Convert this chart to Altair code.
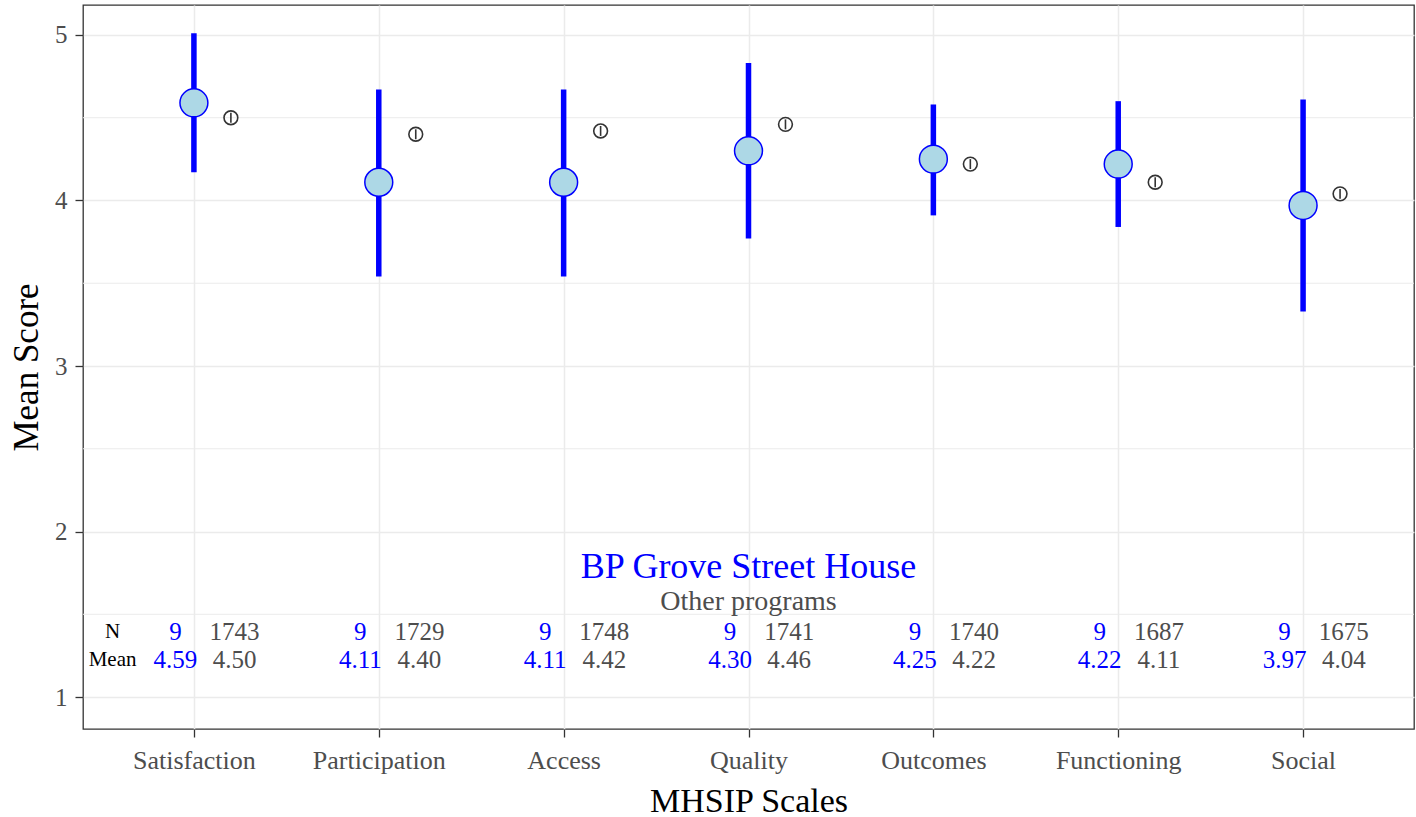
import altair as alt
import pandas as pd

scales = ["Satisfaction", "Participation", "Access", "Quality", "Outcomes", "Functioning", "Social"]
prog_mean = [4.59, 4.11, 4.11, 4.30, 4.25, 4.22, 3.97]
prog_lo = [4.17, 3.54, 3.54, 3.77, 3.91, 3.84, 3.33]
prog_hi = [5.01, 4.67, 4.67, 4.83, 4.58, 4.60, 4.61]
prog_n = [9, 9, 9, 9, 9, 9, 9]
other_mean = [4.50, 4.40, 4.42, 4.46, 4.22, 4.11, 4.04]
other_lo = [4.47, 4.37, 4.39, 4.43, 4.19, 4.08, 4.01]
other_hi = [4.53, 4.43, 4.45, 4.49, 4.25, 4.14, 4.07]
other_n = [1743, 1729, 1748, 1741, 1740, 1687, 1675]
minor_y = [1.5, 2.5, 3.5, 4.5]
row_labels = ["N", "Mean"]

FONT = "Liberation Serif"
BLUE = "#0000ff"
GREY = "#4d4d4d"

df = pd.DataFrame({
    "idx": list(range(1, len(scales) + 1)),
    "scale": scales,
    "mean": prog_mean, "lo": prog_lo, "hi": prog_hi, "n": prog_n,
    "omean": other_mean, "olo": other_lo, "ohi": other_hi, "on": other_n,
})
df["mean_txt"] = [f"{v:.2f}" for v in prog_mean]
df["omean_txt"] = [f"{v:.2f}" for v in other_mean]
df["n_txt"] = [str(v) for v in prog_n]
df["on_txt"] = [str(v) for v in other_n]

label_expr = "[" + ",".join(f"'{s}'" for s in scales) + "][datum.value - 1]"

xscale = alt.Scale(domain=[0.4, 7.6], nice=False, zero=False)
yscale = alt.Scale(domain=[0.807, 5.181], nice=False, zero=False)

xaxis = alt.Axis(values=list(range(1, 8)), labelExpr=label_expr, title="MHSIP Scales",
                 grid=True)
yaxis = alt.Axis(values=[1, 2, 3, 4, 5], title="Mean Score", grid=True, format="d")

base = alt.Chart(df)

X = alt.X("idx:Q", scale=xscale, axis=xaxis)
Y = alt.Y("mean:Q", scale=yscale, axis=yaxis)

minor = alt.Chart(pd.DataFrame({"y": minor_y})).mark_rule(color="#ebebeb", strokeWidth=1).encode(
    y=alt.Y("y:Q", scale=yscale, axis=yaxis)
)

prog_rule = base.mark_rule(color=BLUE, strokeWidth=5.5).encode(
    x=X, y=alt.Y("lo:Q", scale=yscale, axis=yaxis), y2="hi:Q"
)
prog_pt = base.mark_point(shape="circle", filled=True, fill="lightblue", stroke=BLUE,
                          strokeWidth=1.5, size=780, opacity=1).encode(x=X, y=Y)

other = base.transform_calculate(ox="datum.idx + 0.2")
OX = alt.X("ox:Q", scale=xscale, axis=xaxis)
other_rule = other.mark_rule(color="#333333", strokeWidth=1.6).encode(
    x=OX, y=alt.Y("olo:Q", scale=yscale, axis=yaxis), y2="ohi:Q"
)
other_pt = other.mark_point(shape="circle", filled=False, color="#333333", strokeWidth=1.6,
                            size=190, opacity=1).encode(
    x=OX, y=alt.Y("omean:Q", scale=yscale, axis=yaxis)
)

YN_VAL, YM_VAL = 1.391, 1.226
txt = base.transform_calculate(bx="datum.idx - 0.1", gx="datum.idx + 0.22",
                               yn=str(YN_VAL), ym=str(YM_VAL))
BX = alt.X("bx:Q", scale=xscale, axis=xaxis)
GX = alt.X("gx:Q", scale=xscale, axis=xaxis)
YN = alt.Y("yn:Q", scale=yscale, axis=yaxis)
YM = alt.Y("ym:Q", scale=yscale, axis=yaxis)

tkw = dict(font=FONT, fontSize=25, baseline="middle", align="center")
n_blue = txt.mark_text(color=BLUE, **tkw).encode(x=BX, y=YN, text="n_txt:N")
m_blue = txt.mark_text(color=BLUE, **tkw).encode(x=BX, y=YM, text="mean_txt:N")
n_grey = txt.mark_text(color=GREY, **tkw).encode(x=GX, y=YN, text="on_txt:N")
m_grey = txt.mark_text(color=GREY, **tkw).encode(x=GX, y=YM, text="omean_txt:N")

rl = pd.DataFrame({"lab": row_labels, "x": [0.56, 0.56], "y": [YN_VAL, YM_VAL]})
row_lab = alt.Chart(rl).mark_text(font=FONT, fontSize=21, color="black", baseline="middle",
                                  align="center").encode(
    x=alt.X("x:Q", scale=xscale, axis=xaxis), y=alt.Y("y:Q", scale=yscale, axis=yaxis),
    text="lab:N")

leg = pd.DataFrame({"lab": ["BP Grove Street House", "Other programs"],
                    "x": [4, 4], "y": [1.785, 1.572]})
leg_blue = alt.Chart(leg.iloc[[0]]).mark_text(font=FONT, fontSize=36, color=BLUE,
                                              baseline="middle", align="center").encode(
    x=alt.X("x:Q", scale=xscale, axis=xaxis), y=alt.Y("y:Q", scale=yscale, axis=yaxis),
    text="lab:N")
leg_grey = alt.Chart(leg.iloc[[1]]).mark_text(font=FONT, fontSize=28, color=GREY,
                                              baseline="middle", align="center").encode(
    x=alt.X("x:Q", scale=xscale, axis=xaxis), y=alt.Y("y:Q", scale=yscale, axis=yaxis),
    text="lab:N")

chart = alt.layer(
    minor, prog_rule, prog_pt, other_rule, other_pt,
    n_blue, m_blue, n_grey, m_grey, row_lab, leg_blue, leg_grey
).properties(
    width=1331, height=724,
    autosize=alt.AutoSizeParams(type="none"),
    padding={"left": 83, "top": 5, "right": 2, "bottom": 88},
    background="white",
).configure_view(
    stroke="#333333", strokeWidth=1.3
).configure_axis(
    domain=False, gridColor="#ebebeb", gridWidth=1.5,
    tickColor="#333333", tickSize=8, tickWidth=1.3,
    labelFont=FONT, labelColor=GREY,
    titleFont=FONT, titleFontWeight="normal", titleColor="black",
).configure_axisX(
    labelFontSize=26, labelPadding=10, titleFontSize=34, titlePadding=11
).configure_axisY(
    labelFontSize=25, labelPadding=8, titleFontSize=35, titlePadding=10
)

chart.save("out.html", embed_options={"renderer": "svg", "actions": False})
